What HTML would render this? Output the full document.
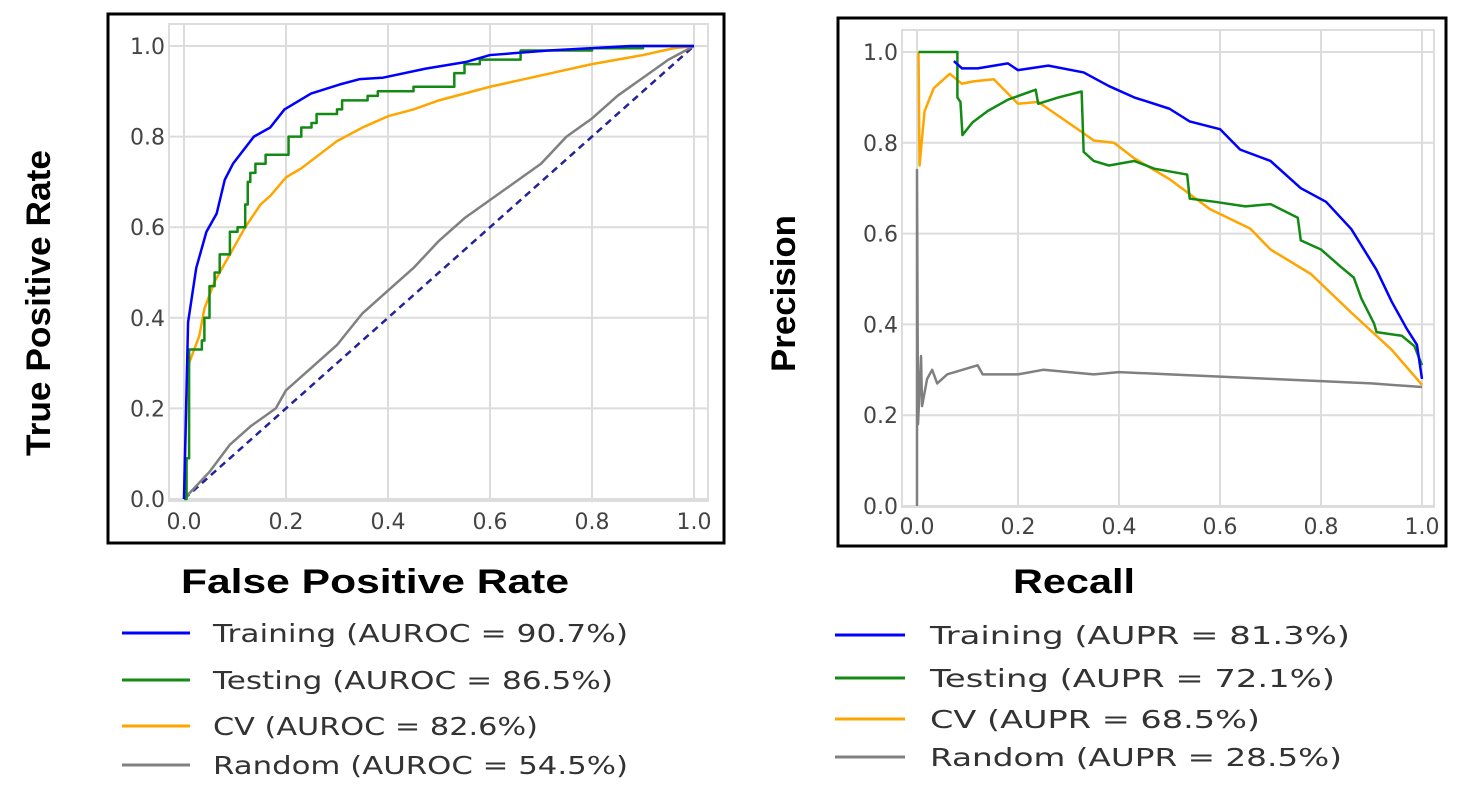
<!DOCTYPE html>
<html><head><meta charset="utf-8"><style>
html,body{margin:0;padding:0;background:#fff;}
svg{display:block;}
.tick{font-family:"DejaVu Sans","Liberation Sans",sans-serif;font-size:22px;fill:#444;}
.leg{font-family:"DejaVu Sans","Liberation Sans",sans-serif;font-size:25px;fill:#333;}
.title{font-family:"Liberation Sans",sans-serif;font-weight:bold;font-size:34px;fill:#000;}
</style></head><body>
<svg id="fig" width="1477" height="790" viewBox="0 0 1477 790" xmlns="http://www.w3.org/2000/svg"></svg>
<script>
// ---- ROC data ----
const rocTrainFpr = [0,0.008,0.024,0.044,0.064,0.08,0.096,0.137,0.169,0.197,0.249,0.305,0.345,0.39,0.474,0.554,0.6,0.715,0.876,1];
const rocTrainTpr = [0,0.39,0.51,0.59,0.63,0.705,0.74,0.80,0.82,0.86,0.895,0.915,0.927,0.93,0.95,0.965,0.98,0.99,1,1];
const rocTestFpr = [0,0.005,0.01,0.035,0.04,0.05,0.06,0.07,0.09,0.105,0.12,0.125,0.13,0.14,0.16,0.205,0.23,0.25,0.26,0.3,0.31,0.36,0.38,0.45,0.53,0.55,0.58,0.66,0.8,0.9,1];
const rocTestTpr = [0,0.09,0.33,0.35,0.4,0.47,0.5,0.54,0.59,0.6,0.65,0.7,0.72,0.74,0.76,0.80,0.82,0.83,0.85,0.86,0.88,0.89,0.9,0.91,0.94,0.96,0.97,0.99,0.995,1,1];
const rocCvFpr = [0,0.005,0.01,0.03,0.04,0.06,0.08,0.1,0.12,0.15,0.17,0.2,0.23,0.3,0.35,0.4,0.45,0.5,0.6,0.7,0.8,0.9,0.96,1];
const rocCvTpr = [0,0.22,0.3,0.36,0.42,0.48,0.52,0.56,0.6,0.65,0.67,0.71,0.73,0.79,0.82,0.845,0.86,0.88,0.91,0.935,0.96,0.98,0.995,1];
const rocRandFpr = [0,0.05,0.09,0.13,0.18,0.2,0.25,0.3,0.35,0.4,0.45,0.5,0.55,0.6,0.65,0.7,0.75,0.8,0.85,0.9,0.95,1];
const rocRandTpr = [0,0.06,0.12,0.16,0.2,0.24,0.29,0.34,0.41,0.46,0.51,0.57,0.62,0.66,0.7,0.74,0.8,0.84,0.89,0.93,0.97,1];
// ---- PR data ----
const prTrainRec = [0.073,0.089,0.12,0.18,0.2,0.26,0.33,0.38,0.43,0.5,0.54,0.6,0.64,0.7,0.76,0.81,0.86,0.91,0.94,0.97,0.99,1.0];
const prTrainPre = [0.98,0.964,0.964,0.975,0.96,0.97,0.955,0.925,0.90,0.875,0.847,0.83,0.785,0.76,0.70,0.67,0.61,0.52,0.45,0.39,0.355,0.28];
const prTestRec = [0.003,0.08,0.08,0.086,0.09,0.11,0.14,0.18,0.235,0.24,0.28,0.326,0.33,0.35,0.38,0.43,0.47,0.51,0.535,0.54,0.59,0.65,0.7,0.754,0.76,0.8,0.84,0.865,0.88,0.905,0.91,0.96,0.985,1.0];
const prTestPre = [1.0,1.0,0.9,0.89,0.817,0.845,0.87,0.895,0.917,0.886,0.9,0.913,0.78,0.76,0.75,0.76,0.743,0.735,0.73,0.677,0.67,0.66,0.665,0.635,0.585,0.565,0.526,0.503,0.457,0.402,0.383,0.375,0.352,0.31];
const prCvRec = [0.003,0.005,0.015,0.017,0.033,0.065,0.089,0.11,0.152,0.176,0.2,0.24,0.27,0.326,0.35,0.39,0.43,0.5,0.58,0.66,0.7,0.78,0.86,0.94,1.0];
const prCvPre = [1.0,0.75,0.87,0.875,0.92,0.952,0.93,0.935,0.94,0.913,0.886,0.89,0.867,0.824,0.805,0.8,0.766,0.72,0.654,0.611,0.565,0.511,0.426,0.344,0.267];
const prRandRec = [0,0,0.002,0.008,0.01,0.02,0.03,0.04,0.06,0.09,0.12,0.13,0.2,0.25,0.35,0.4,0.5,0.6,0.7,0.8,0.9,1.0];
const prRandPre = [0,0.74,0.18,0.33,0.22,0.28,0.3,0.27,0.29,0.3,0.31,0.29,0.29,0.3,0.29,0.295,0.29,0.285,0.28,0.275,0.27,0.262];
const ticks = [0,0.2,0.4,0.6,0.8,1.0];
const tickLabels = ["0.0","0.2","0.4","0.6","0.8","1.0"];
const rocLegend = ["Training (AUROC = 90.7%)","Testing (AUROC = 86.5%)","CV (AUROC = 82.6%)","Random (AUROC = 54.5%)"];
const prLegend = ["Training (AUPR = 81.3%)","Testing (AUPR = 72.1%)","CV (AUPR = 68.5%)","Random (AUPR = 28.5%)"];

const NS="http://www.w3.org/2000/svg";
const fig=document.getElementById('fig');
function mk(tag,attrs,parent){const e=document.createElementNS(NS,tag);for(const k in attrs)e.setAttribute(k,attrs[k]);(parent||fig).appendChild(e);return e;}

function panel(cfg){
  const g=mk('g',{});
  
  
  const sx=v=>cfg.x0+v*(cfg.x1-cfg.x0);
  const sy=v=>cfg.y0+v*(cfg.y1-cfg.y0);
  const box=mk('rect',{x:cfg.box[0],y:cfg.box[1],width:cfg.box[2],height:cfg.box[3],fill:'#fff',stroke:'#000','stroke-width':3},g);
  
  
  const fr=mk('rect',{x:cfg.frame[0],y:cfg.frame[1],width:cfg.frame[2]-cfg.frame[0],height:cfg.frame[3]-cfg.frame[1],fill:'none',stroke:'#ddd','stroke-width':2},g);
  
  
  ticks.forEach((t,i)=>{
    const gx=mk('line',{x1:sx(t),x2:sx(t),y1:cfg.frame[1],y2:cfg.frame[3],stroke:'#dcdcdc','stroke-width':2},g);
    
    
    const gy=mk('line',{x1:cfg.frame[0],x2:cfg.frame[2],y1:sy(t),y2:sy(t),stroke:'#dcdcdc','stroke-width':2},g);
    
    
    const tx=mk('text',{x:sx(t),y:cfg.xLabY,'text-anchor':'middle',class:'tick'},g);
    tx.textContent=tickLabels[i];
    
    
    const ty=mk('text',{x:cfg.frame[0]-4,y:sy(t)+8,'text-anchor':'end',class:'tick'},g);
    ty.textContent=tickLabels[i];
    
    
  });
  cfg.series.forEach(s=>{
    let d='';
    s.x.forEach((v,i)=>{
      if(i===0){d+='M'+sx(v)+','+sy(s.y[i]);}
      else if(s.step){d+='H'+sx(v)+'V'+sy(s.y[i]);}
      else d+='L'+sx(v)+','+sy(s.y[i]);
    });
    const p=mk('path',{d:d,fill:'none',stroke:s.color,'stroke-width':2.5,'stroke-linejoin':'round'},g);
    if(s.dash)p.setAttribute('stroke-dasharray',s.dash);
    
    
  });
  const xt=mk('text',{x:cfg.xTitle[0],y:cfg.xTitle[1],class:'title',textLength:cfg.xTitle[2],lengthAdjust:'spacingAndGlyphs'},g);
  xt.textContent=cfg.xTitle[3];
  
  
  const yt=mk('text',{x:0,y:0,class:'title',textLength:cfg.yTitle[2],lengthAdjust:'spacingAndGlyphs',transform:'translate('+cfg.yTitle[0]+','+cfg.yTitle[1]+') rotate(-90)'},g);
  yt.textContent=cfg.yTitle[3];
  
  
  const colors=['#0000ff','#138a13','#ffa500','#808080'];
  cfg.legend.labels.forEach((lab,i)=>{
    const y=cfg.legend.ys[i];
    const lg=mk('g',{},g);
    
    
    mk('line',{x1:cfg.legend.lx0,x2:cfg.legend.lx1,y1:y,y2:y,stroke:colors[i],'stroke-width':3},lg);
    const t=mk('text',{x:cfg.legend.tx,y:y+9,class:'leg',textLength:cfg.legend.tw[i],lengthAdjust:'spacingAndGlyphs'},lg);
    t.textContent=lab;
  });
}

panel({name:'roc-chart',box:[108,14,616,529],frame:[169,24,708,501],x0:184,x1:694,y0:499,y1:46,xLabY:529,
  series:[
    {name:'diagonal-line',x:[0,1],y:[0,1],color:'#22229a',dash:'7,5'},
    {name:'random-roc-line',x:rocRandFpr,y:rocRandTpr,color:'#808080'},
    {name:'cv-roc-line',x:rocCvFpr,y:rocCvTpr,color:'#ffa500'},
    {name:'testing-roc-line',x:rocTestFpr,y:rocTestTpr,color:'#138a13',step:true},
    {name:'training-roc-line',x:rocTrainFpr,y:rocTrainTpr,color:'#0000ff'}
  ],
  xTitle:[181,593,388,'False Positive Rate'],
  yTitle:[50,456,306,'True Positive Rate'],
  legend:{labels:rocLegend,ys:[633,680,726,765],lx0:122,lx1:190,tx:213,tw:[415,400,325,415]}
});
panel({name:'pr-chart',box:[838,18,608,528],frame:[902,30,1434,507],x0:917,x1:1422,y0:506,y1:52,xLabY:534,
  series:[
    {name:'random-pr-line',x:prRandRec,y:prRandPre,color:'#808080'},
    {name:'cv-pr-line',x:prCvRec,y:prCvPre,color:'#ffa500'},
    {name:'testing-pr-line',x:prTestRec,y:prTestPre,color:'#138a13'},
    {name:'training-pr-line',x:prTrainRec,y:prTrainPre,color:'#0000ff'}
  ],
  xTitle:[1013,593,122,'Recall'],
  yTitle:[795,372,157,'Precision'],
  legend:{labels:prLegend,ys:[635,678,719,757],lx0:835,lx1:905,tx:930,tw:[420,405,330,412]}
});
</script>
</body></html>
